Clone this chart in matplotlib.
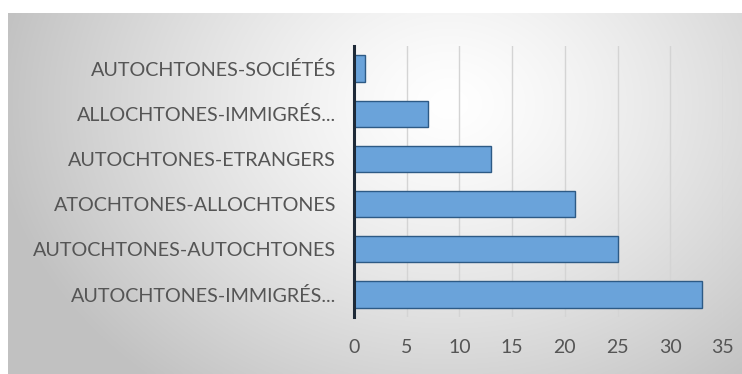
import matplotlib
matplotlib.use("Agg")
import matplotlib.pyplot as plt
import numpy as np

categories = ["AUTOCHTONES-IMMIGRÉS...", "AUTOCHTONES-AUTOCHTONES", "ATOCHTONES-ALLOCHTONES",
              "AUTOCHTONES-ETRANGERS", "ALLOCHTONES-IMMIGRÉS...", "AUTOCHTONES-SOCIÉTÉS"]
values = [33, 25, 21, 13, 7, 1]
xticks = [0, 5, 10, 15, 20, 25, 30, 35]

W, H = 742, 374
fig = plt.figure(figsize=(W / 100, H / 100), dpi=100)
fig.patch.set_facecolor("white")

# gradient background panel
bg = fig.add_axes([8 / W, 0, 1 - 8 / W, (H - 13) / H])
bg.set_axis_off()
ny, nx = 200, 400
yy, xx = np.mgrid[0:ny, 0:nx]
cx, cy = 0.6 * nx, 0.25 * ny
d = np.sqrt(((xx - cx) / (nx * 0.62)) ** 2 + ((yy - cy) / (ny * 1.0)) ** 2)
d = np.clip(d, 0, 1)
v = 1.0 - 0.24 * d ** 1.3
img = np.dstack([v, v, v])
bg.imshow(img, aspect="auto", extent=[0, 1, 0, 1], interpolation="bilinear")
bg.set_xlim(0, 1); bg.set_ylim(0, 1)

ax = fig.add_axes([354 / W, 1 - 317 / H, (723 - 354) / W, (317 - 46) / H])
ax.patch.set_alpha(0)
y = np.arange(len(categories))
ax.barh(y, values, height=0.58, color="#6aa3da", edgecolor="#2d5a85", linewidth=1.0, zorder=3)
ax.set_xlim(0, 35)
ax.set_ylim(-0.5, len(categories) - 0.5)
ax.set_xticks(xticks)
ax.set_xticklabels([str(t) for t in xticks])
ax.set_yticks(y)
ax.set_yticklabels(categories)
for s in ["top", "right", "bottom"]:
    ax.spines[s].set_visible(False)
ax.spines["left"].set_color("#1e2a38")
ax.spines["left"].set_linewidth(2.2)
ax.spines["left"].set_zorder(4)
ax.xaxis.grid(True, color="#d4d4d4", linewidth=1.0, zorder=0)
ax.tick_params(axis="both", length=0)
ax.tick_params(axis="y", pad=13, labelsize=14.2, labelcolor="#555555")
ax.tick_params(axis="x", pad=16, labelsize=14, labelcolor="#555555")
for lab in ax.get_yticklabels() + ax.get_xticklabels():
    lab.set_fontfamily("Lato")

fig.savefig("out.png", dpi=100)
